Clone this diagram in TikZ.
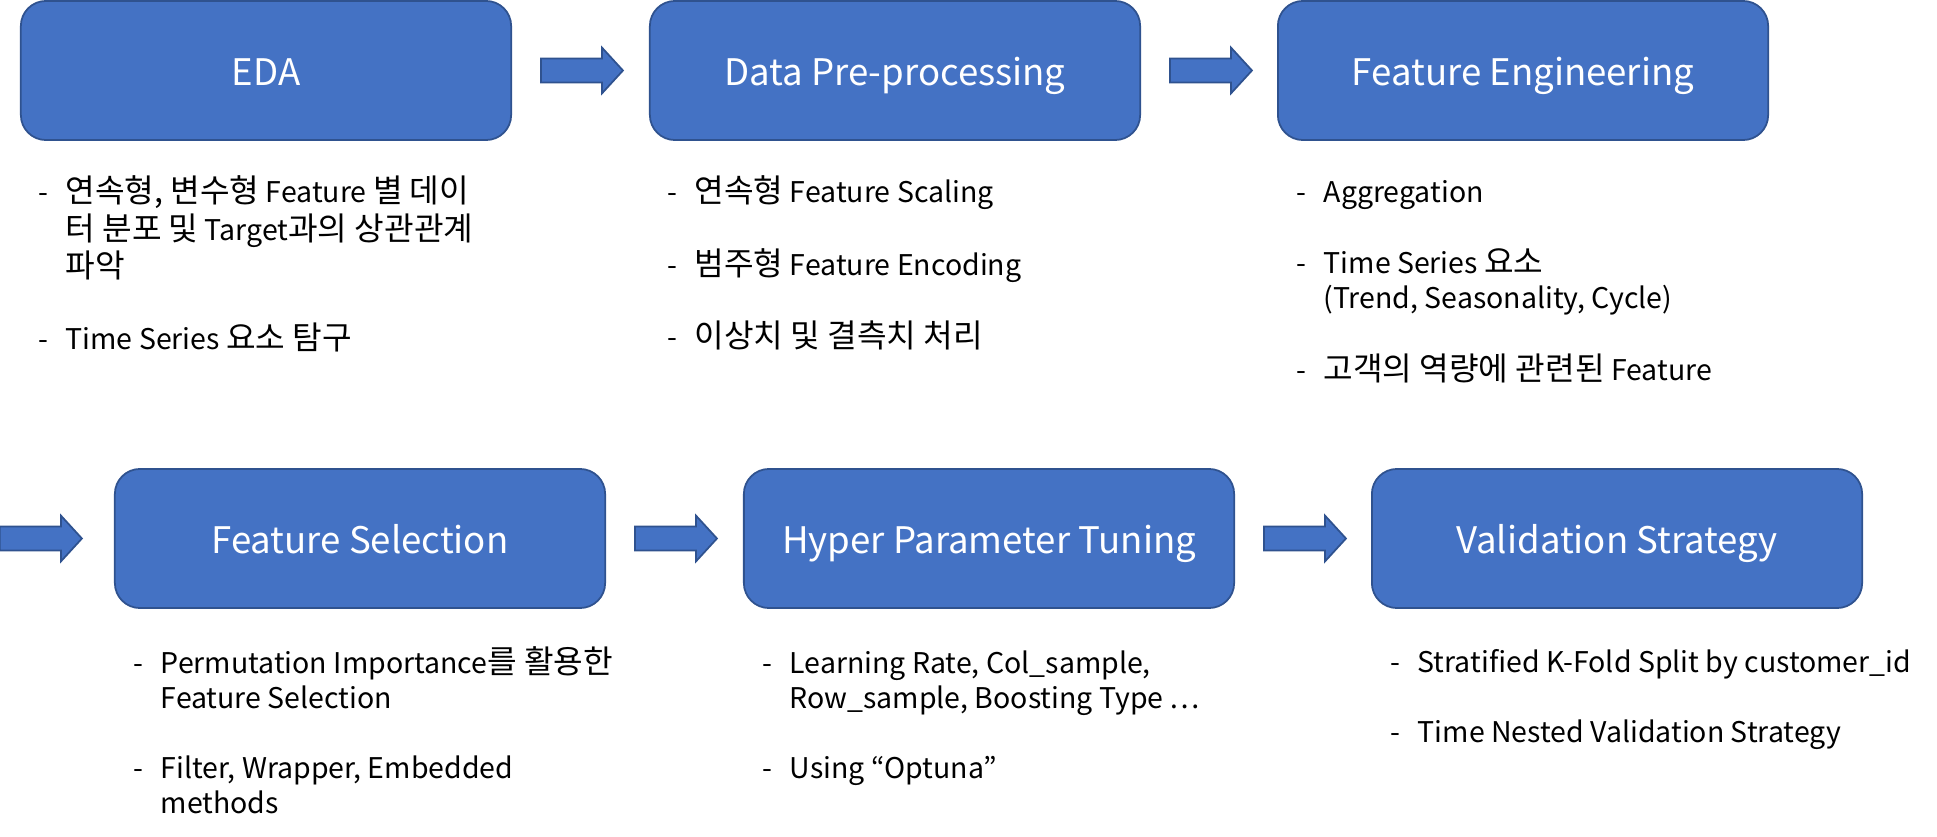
\documentclass[tikz,border=0pt]{standalone}
\usepackage{fontspec}
\setmainfont{Noto Sans CJK KR}
\newfontfamily\hangulfont{Noto Sans CJK KR}[Scale=1.13]
\usetikzlibrary{shapes.arrows,calc}
\definecolor{boxblue}{HTML}{4472C4}
\definecolor{boxline}{HTML}{2F528F}
\newcommand{\ko}[1]{{\hangulfont #1}}
\newcommand{\notelist}[1]{\begin{tabular}[t]{@{}p{0.27cm}@{}l@{}}#1\end{tabular}}
\begin{document}
\begin{tikzpicture}[x=0.01cm,y=-0.01cm]
        \tikzstyle{stage}=[rectangle,rounded corners=0.25cm,draw=boxline,line width=0.5pt,fill=boxblue,text=white,minimum width=4.9cm,minimum height=1.39cm,text height=0.29cm,text depth=0cm,font=\fontsize{10.4pt}{13pt}\selectfont]
        \tikzstyle{flow}=[single arrow,draw=boxline,line width=0.5pt,fill=boxblue,anchor=tail,minimum height=0.82cm,single arrow head extend=0.11cm,single arrow tip angle=95,inner xsep=0pt,inner ysep=0.11cm]
        \tikzstyle{notes}=[anchor=base west,inner sep=0pt,font=\fontsize{8.1pt}{0.35cm}\selectfont]
        \useasboundingbox (0,0) rectangle (1937,837);
       \begin{scope}
         \node [stage] (eda) at (266,70.5) {EDA};
         \node [stage] (prep) at (895,70.5) {Data Pre-processing};
         \node [stage] (feng) at (1523,70.5) {Feature Engineering};
         \node [stage] (fsel) at (360,538.5) {Feature Selection};
         \node [stage] (hpt) at (989,538.5) {Hyper Parameter Tuning};
         \node [stage] (val) at (1617,538.5) {Validation Strategy};

         \node [flow] (a1) at ($(eda.east)+(28,0)$) {};
         \node [flow] (a2) at ($(prep.east)+(28,0)$) {};
         \node [flow] (a3) at ($(fsel.west)+(-115,0)$) {};
         \node [flow] (a4) at ($(fsel.east)+(28,0)$) {};
         \node [flow] (a5) at ($(hpt.east)+(28,0)$) {};

         \node [notes] (eda-txt) at (38,203) {\notelist{- & \ko{연속형, 변수형} Feature \ko{별 데이}\\ & \ko{터 분포 및} Target\ko{과의 상관관계}\\ & \ko{파악}\\ & \\ - & Time Series \ko{요소 탐구}}};
         \node [notes] (prep-txt) at (667,203) {\notelist{- & \ko{연속형} Feature Scaling\\ & \\ - & \ko{범주형} Feature Encoding\\ & \\ - & \ko{이상치 및 결측치 처리}}};
         \node [notes] (feng-txt) at (1296,203) {\notelist{- & Aggregation\\ & \\ - & Time Series \ko{요소}\\ & (Trend, Seasonality, Cycle)\\ & \\ - & \ko{고객의 역량에 관련된} Feature}};
         \node [notes] (fsel-txt) at (133,673) {\notelist{- & Permutation Importance\ko{를 활용한}\\ & Feature Selection\\ & \\ - & Filter, Wrapper, Embedded\\ & methods}};
         \node [notes] (hpt-txt) at (762,673) {\notelist{- & Learning Rate, Col\_sample,\\ & Row\_sample, Boosting Type …\\ & \\ - & Using “Optuna”}};
         \node [notes] (val-txt) at (1390,672) {\notelist{- & Stratified K-Fold Split by customer\_id\\ & \\ - & Time Nested Validation Strategy}};
        \end{scope}
      \end{tikzpicture}
\end{document}
